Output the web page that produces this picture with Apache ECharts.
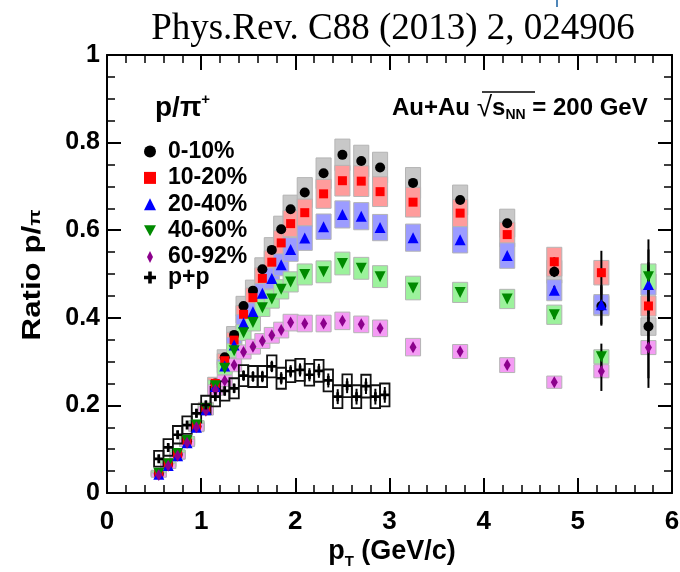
<!DOCTYPE html>
<html>
<head>
<meta charset="utf-8">
<script src="https://cdn.jsdelivr.net/npm/echarts@6.0.0/dist/echarts.min.js"></script>
<style>
  html, body { margin: 0; padding: 0; background: #fff; }
  #chart { width: 680px; height: 572px; }
</style>
</head>
<body>
<div id="chart"></div>
<script>
// pT bin centres (GeV/c) for Au+Au
const ptAA = [0.55, 0.65, 0.75, 0.85, 0.95, 1.05, 1.15, 1.25, 1.35, 1.45, 1.55, 1.65, 1.75,
              1.85, 1.95, 2.1, 2.3, 2.5, 2.7, 2.9, 3.25, 3.75, 4.25, 4.75, 5.25, 5.75];

// p/pi ratio per centrality class
const ratio0_10  = [0.044, 0.066, 0.088, 0.118, 0.152, 0.192, 0.250, 0.310, 0.361, 0.427, 0.462, 0.511, 0.555,
                    0.602, 0.648, 0.686, 0.730, 0.772, 0.758, 0.743, 0.708, 0.669, 0.616, 0.505, 0.427, 0.380];
const ratio10_20 = [0.046, 0.068, 0.090, 0.120, 0.155, 0.195, 0.250, 0.302, 0.349, 0.408, 0.446, 0.490, 0.527,
                    0.571, 0.615, 0.640, 0.683, 0.713, 0.712, 0.688, 0.664, 0.639, 0.590, 0.528, 0.503, 0.427];
const ratio20_40 = [0.043, 0.063, 0.085, 0.115, 0.150, 0.190, 0.243, 0.290, 0.338, 0.388, 0.414, 0.456, 0.490,
                    0.521, 0.556, 0.582, 0.608, 0.636, 0.632, 0.606, 0.583, 0.578, 0.542, 0.463, 0.430, 0.476];
const ratio40_60 = [0.045, 0.067, 0.090, 0.120, 0.155, 0.193, 0.245, 0.285, 0.325, 0.366, 0.389, 0.423, 0.443,
                    0.465, 0.482, 0.499, 0.505, 0.524, 0.513, 0.494, 0.468, 0.458, 0.443, 0.407, 0.311, 0.494];
const ratio60_92 = [0.041, 0.062, 0.085, 0.115, 0.150, 0.188, 0.235, 0.256, 0.292, 0.322, 0.334, 0.347, 0.360,
                    0.372, 0.389, 0.387, 0.387, 0.393, 0.385, 0.376, 0.333, 0.323, 0.292, 0.253, 0.278, 0.332];

// systematic uncertainties (half height of the shaded boxes)
const sys0_10  = [0.006, 0.007, 0.008, 0.009, 0.010, 0.012, 0.014, 0.017, 0.019, 0.022, 0.024, 0.026, 0.028,
                  0.030, 0.032, 0.034, 0.035, 0.036, 0.036, 0.035, 0.035, 0.034, 0.032, 0.026, 0.022, 0.020];
const sys10_20 = [0.006, 0.007, 0.008, 0.009, 0.010, 0.012, 0.014, 0.016, 0.018, 0.020, 0.022, 0.024, 0.026,
                  0.028, 0.030, 0.031, 0.033, 0.035, 0.035, 0.034, 0.034, 0.031, 0.028, 0.033, 0.028, 0.023];
const sys20_40 = [0.006, 0.007, 0.008, 0.009, 0.010, 0.011, 0.013, 0.015, 0.017, 0.019, 0.020, 0.022, 0.024,
                  0.025, 0.027, 0.028, 0.029, 0.031, 0.031, 0.030, 0.031, 0.030, 0.029, 0.024, 0.023, 0.024];
const sys40_60 = [0.006, 0.007, 0.008, 0.009, 0.010, 0.011, 0.013, 0.015, 0.016, 0.018, 0.019, 0.020, 0.021,
                  0.022, 0.023, 0.024, 0.025, 0.026, 0.025, 0.025, 0.027, 0.023, 0.022, 0.022, 0.016, 0.029];
const sys60_92 = [0.005, 0.006, 0.007, 0.008, 0.009, 0.010, 0.012, 0.013, 0.015, 0.016, 0.017, 0.017, 0.018,
                  0.018, 0.019, 0.019, 0.019, 0.020, 0.019, 0.019, 0.020, 0.016, 0.017, 0.014, 0.015, 0.016];

// statistical uncertainties (error bars)
const stat0_10  = [0, 0, 0, 0, 0, 0, 0, 0, 0, 0, 0, 0, 0, 0, 0, 0, 0, 0, 0, 0, 0, 0, 0, 0.012, 0.045, 0.140];
const stat10_20 = [0, 0, 0, 0, 0, 0, 0, 0, 0, 0, 0, 0, 0, 0, 0, 0, 0, 0, 0, 0, 0, 0, 0, 0.010, 0.050, 0.100];
const stat20_40 = [0, 0, 0, 0, 0, 0, 0, 0, 0, 0, 0, 0, 0, 0, 0, 0, 0, 0, 0, 0, 0, 0, 0, 0.010, 0.045, 0.080];
const stat40_60 = [0, 0, 0, 0, 0, 0, 0, 0, 0, 0, 0, 0, 0, 0, 0, 0, 0, 0, 0, 0, 0, 0, 0, 0.010, 0.030, 0.085];
const stat60_92 = [0, 0, 0, 0, 0, 0, 0, 0, 0, 0, 0, 0, 0, 0, 0, 0, 0, 0, 0, 0, 0, 0, 0, 0.008, 0.045, 0.070];

// p+p reference
const ptPP    = [0.55, 0.65, 0.75, 0.85, 0.95, 1.05, 1.15, 1.25, 1.35, 1.45, 1.55, 1.65, 1.75,
                 1.85, 1.95, 2.05, 2.15, 2.25, 2.35, 2.45, 2.55, 2.65, 2.75, 2.85, 2.95];
const ratioPP = [0.078, 0.104, 0.133, 0.155, 0.182, 0.201, 0.220, 0.233, 0.239, 0.268, 0.266, 0.266, 0.289,
                 0.262, 0.278, 0.281, 0.270, 0.279, 0.257, 0.220, 0.245, 0.220, 0.244, 0.220, 0.224];
const sysPP   = [0.018, 0.019, 0.020, 0.020, 0.021, 0.021, 0.022, 0.022, 0.023, 0.024, 0.024, 0.024, 0.025,
                 0.024, 0.025, 0.025, 0.025, 0.025, 0.025, 0.026, 0.026, 0.026, 0.026, 0.026, 0.026];
const statPP  = [0.008, 0.008, 0.009, 0.009, 0.010, 0.010, 0.010, 0.011, 0.011, 0.012, 0.012, 0.013, 0.013,
                 0.014, 0.014, 0.015, 0.015, 0.016, 0.016, 0.017, 0.017, 0.018, 0.018, 0.018, 0.018];

// axis ticks
const xTicks = [0, 1, 2, 3, 4, 5, 6];
const yTicks = [0, 0.2, 0.4, 0.6, 0.8, 1];

const legendNames = ['0-10%', '10-20%', '20-40%', '40-60%', '60-92%', 'p+p'];

const SANS = '"Liberation Sans", Arial, Helvetica, sans-serif';
const INV_TRI = 'path://M0,0 L12,0 L6,11 Z';
const DIAMOND = 'path://M3,0 L6,6 L3,12 L0,6 Z';
const CROSS = 'path://M3.5,0 H6.5 V3.5 H10 V6.5 H6.5 V10 H3.5 V6.5 H0 V3.5 H3.5 Z';

const groups = [
  { name: legendNames[0], y: ratio0_10,  sys: sys0_10,  stat: stat0_10,  color: '#000000', box: '#c8c8c8', symbol: 'circle',   size: 10 },
  { name: legendNames[1], y: ratio10_20, sys: sys10_20, stat: stat10_20, color: '#ff0000', box: '#ff9c9c', symbol: 'rect',     size: 9 },
  { name: legendNames[2], y: ratio20_40, sys: sys20_40, stat: stat20_40, color: '#0000ff', box: '#9c9cff', symbol: 'triangle', size: 11 },
  { name: legendNames[3], y: ratio40_60, sys: sys40_60, stat: stat40_60, color: '#008a00', box: '#9cf29c', symbol: INV_TRI,    size: 11 },
  { name: legendNames[4], y: ratio60_92, sys: sys60_92, stat: stat60_92, color: '#8c008c', box: '#f49cf4', symbol: DIAMOND,    size: [7, 12] }
];

// shaded / open systematic boxes
function boxSeries(name, xs, ys, sys, halfW, fill, stroke, lw) {
  return {
    type: 'custom', name: name, z: 1, silent: true, clip: true,
    data: xs.map((x, i) => [x, ys[i], sys[i]]),
    encode: { x: 0, y: 1 },
    renderItem: function (params, api) {
      const x = api.value(0), y = api.value(1), s = api.value(2);
      const a = api.coord([x - halfW, y + s]);
      const b = api.coord([x + halfW, y - s]);
      return {
        type: 'rect',
        shape: { x: a[0], y: a[1], width: b[0] - a[0], height: b[1] - a[1] },
        style: { fill: fill, stroke: stroke, lineWidth: lw }
      };
    }
  };
}

// vertical statistical error bars
function errSeries(name, xs, ys, err) {
  return {
    type: 'custom', name: name, z: 2, silent: true, clip: true,
    data: xs.map((x, i) => [x, ys[i], err[i]]),
    encode: { x: 0, y: 1 },
    renderItem: function (params, api) {
      const x = api.value(0), y = api.value(1), e = api.value(2);
      if (!e) return null;
      const lo = api.coord([x, y - e]);
      const hi = api.coord([x, y + e]);
      return {
        type: 'line',
        shape: { x1: lo[0], y1: lo[1], x2: hi[0], y2: hi[1] },
        style: { stroke: '#000', lineWidth: 2 }
      };
    }
  };
}

const series = [];
groups.forEach(g => series.push(boxSeries(g.name + ' sys', ptAA, g.y, g.sys, 0.08, g.box, '#b4b4b4', 1)));
series.push(boxSeries('p+p sys', ptPP, ratioPP, sysPP, 0.05, 'rgba(255,255,255,0)', '#111', 1.8));
groups.forEach(g => series.push(errSeries(g.name + ' stat', ptAA, g.y, g.stat)));
series.push(errSeries('p+p stat', ptPP, ratioPP, statPP));
groups.forEach(g => series.push({
  type: 'scatter', name: g.name, z: 3,
  data: ptAA.map((x, i) => [x, g.y[i]]),
  symbol: g.symbol, symbolSize: g.size,
  itemStyle: { color: g.color, opacity: 1 },
  emphasis: { disabled: true }
}));
series.push({
  type: 'scatter', name: 'p+p', z: 3,
  data: ptPP.map((x, i) => [x, ratioPP[i]]),
  symbol: CROSS, symbolSize: 9,
  itemStyle: { color: '#000', opacity: 1 },
  emphasis: { disabled: true }
});

const axisLineStyle = { color: '#000', width: 2 };
function xAxis(pos, labels) {
  return {
    type: 'value', position: pos, min: xTicks[0], max: xTicks[xTicks.length - 1], interval: 1,
    axisLine: { show: true, onZero: false, lineStyle: axisLineStyle },
    axisTick: { show: true, inside: true, length: 15, lineStyle: { color: '#000', width: 2 } },
    minorTick: { show: true, splitNumber: 5, length: 8, lineStyle: { color: '#000', width: 1.5 } },
    splitLine: { show: false },
    axisLabel: {
      show: labels, color: '#000', fontFamily: SANS, fontWeight: 'bold', fontSize: 26, margin: 16,
      formatter: v => String(xTicks.find(t => Math.abs(t - v) < 1e-6))
    }
  };
}
function yAxis(pos, labels) {
  return {
    type: 'value', position: pos, min: yTicks[0], max: yTicks[yTicks.length - 1], interval: 0.2,
    axisLine: { show: true, onZero: false, lineStyle: axisLineStyle },
    axisTick: { show: true, inside: true, length: 14, lineStyle: { color: '#000', width: 2 } },
    minorTick: { show: true, splitNumber: 4, length: 8, lineStyle: { color: '#000', width: 1.5 } },
    splitLine: { show: false },
    axisLabel: {
      show: labels, color: '#000', fontFamily: SANS, fontWeight: 'bold', fontSize: 25, margin: 7,
      formatter: v => String(yTicks.find(t => Math.abs(t - v) < 1e-6))
    }
  };
}

const legendIcons = ['circle', 'rect', 'triangle', INV_TRI, DIAMOND, CROSS];
function legendBlock(top, from, to) {
  return {
    orient: 'vertical', left: 139, top: top,
    itemWidth: 12, itemHeight: 12, itemGap: 3.4,
    symbolKeepAspect: true,
    selectedMode: false,
    textStyle: { color: '#000', fontFamily: SANS, fontWeight: 'bold', fontSize: 23,
                 lineHeight: 22, padding: [0, 0, 0, 7] },
    data: legendNames.slice(from, to).map((n, i) => ({ name: n, icon: legendIcons[from + i] }))
  };
}

const chart = echarts.init(document.getElementById('chart'), null, { renderer: 'canvas' });
chart.setOption({
  animation: false,
  backgroundColor: '#ffffff',
  grid: { left: 107, right: 8, top: 55, bottom: 79, containLabel: false, outerBoundsMode: 'none' },
  xAxis: [xAxis('bottom', true), xAxis('top', false)],
  yAxis: [yAxis('left', true), yAxis('right', false)],
  legend: [legendBlock(135, 0, 5), legendBlock(261, 5, 6)],
  graphic: [
    { type: 'text', x: 393, y: 29, silent: true,
      style: { text: 'Phys.Rev. C88 (2013) 2, 024906', fill: '#000',
               font: '37px "Liberation Serif", "Times New Roman", serif',
               align: 'center', verticalAlign: 'middle', textAlign: 'center', textVerticalAlign: 'middle' } },
    { type: 'line', silent: true, shape: { x1: 557, y1: 0, x2: 557, y2: 7 },
      style: { stroke: '#4f86b8', lineWidth: 2 } },
    { type: 'text', x: 155, y: 107, silent: true,
      style: {
        text: '{b|p/π}{sup|+}', fill: '#000', verticalAlign: 'middle', textVerticalAlign: 'middle',
        rich: {
          b: { fontFamily: SANS, fontWeight: 'bold', fontSize: 28, lineHeight: 30, verticalAlign: 'bottom' },
          sup: { fontFamily: SANS, fontWeight: 'bold', fontSize: 15, lineHeight: 30, verticalAlign: 'top' }
        }
      } },
    { type: 'text', x: 392, y: 108, silent: true,
      style: {
        text: '{n|Au+Au }{r|√}{n|s}{sub|NN}{n| = 200 GeV}', fill: '#000',
        verticalAlign: 'middle', textVerticalAlign: 'middle',
        rich: {
          n: { fontFamily: SANS, fontWeight: 'bold', fontSize: 24, lineHeight: 28, verticalAlign: 'middle' },
          r: { fontFamily: SANS, fontWeight: 'normal', fontSize: 28, lineHeight: 28, verticalAlign: 'middle' },
          sub: { fontFamily: SANS, fontWeight: 'bold', fontSize: 14, lineHeight: 28, verticalAlign: 'bottom' }
        }
      } },
    { type: 'line', silent: true, shape: { x1: 482, y1: 92, x2: 535, y2: 92 },
      style: { stroke: '#000', lineWidth: 1.5 } },
    { type: 'text', x: 392, y: 552, silent: true,
      style: {
        text: '{p|p}{t|T}{p| (GeV/c)}', fill: '#000', align: 'center', textAlign: 'center',
        verticalAlign: 'middle', textVerticalAlign: 'middle',
        rich: {
          p: { fontFamily: SANS, fontWeight: 'bold', fontSize: 27, lineHeight: 34, verticalAlign: 'middle' },
          t: { fontFamily: SANS, fontWeight: 'bold', fontSize: 15, lineHeight: 34, verticalAlign: 'bottom' }
        }
      } },
    { type: 'text', x: 33, y: 275, rotation: Math.PI / 2, scaleX: 1.25, silent: true,
      style: {
        text: '{a|Ratio p/}{pi|π}', fill: '#000', align: 'center', textAlign: 'center',
        verticalAlign: 'middle', textVerticalAlign: 'middle',
        rich: {
          a: { fontFamily: SANS, fontWeight: 'bold', fontSize: 25, lineHeight: 30, verticalAlign: 'middle' },
          pi: { fontFamily: SANS, fontWeight: 'bold', fontSize: 17, lineHeight: 30, verticalAlign: 'bottom', padding: [0, 0, 4, 0] }
        }
      } }
  ],
  series: series
});
</script>
</body>
</html>
